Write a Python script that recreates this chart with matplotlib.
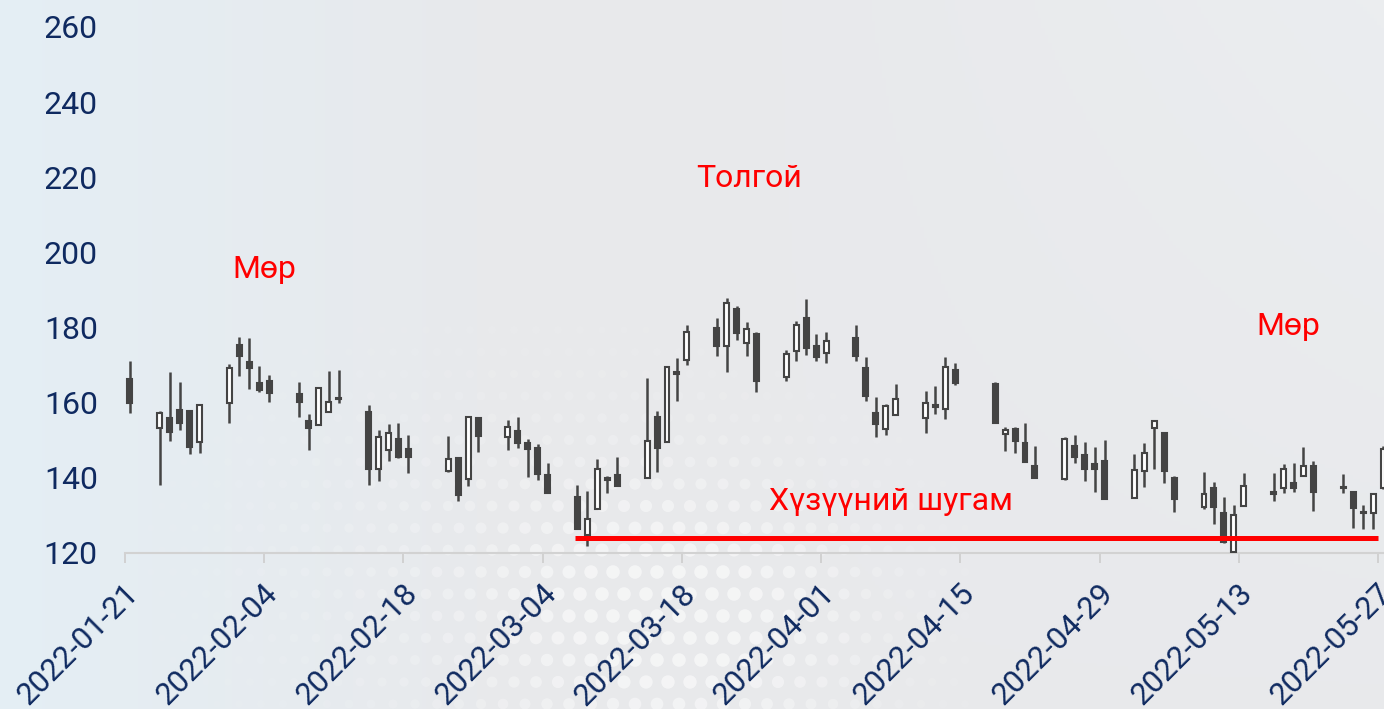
import numpy as np
import pandas as pd
import matplotlib
matplotlib.use("Agg")
import matplotlib.pyplot as plt
import matplotlib.dates as mdates
import matplotlib.transforms as mtransforms

plt.rcParams['font.family'] = ['Roboto', 'DejaVu Sans']

# ---------------- data ----------------
dates = ["2022-01-21", "2022-01-24", "2022-01-25", "2022-01-26", "2022-01-27", "2022-01-28",
         "2022-01-31", "2022-02-01", "2022-02-02", "2022-02-03", "2022-02-04",
         "2022-02-07", "2022-02-08", "2022-02-09", "2022-02-10", "2022-02-11",
         "2022-02-14", "2022-02-15", "2022-02-16", "2022-02-17", "2022-02-18",
         "2022-02-22", "2022-02-23", "2022-02-24", "2022-02-25",
         "2022-02-28", "2022-03-01", "2022-03-02", "2022-03-03", "2022-03-04",
         "2022-03-07", "2022-03-08", "2022-03-09", "2022-03-10", "2022-03-11",
         "2022-03-14", "2022-03-15", "2022-03-16", "2022-03-17", "2022-03-18",
         "2022-03-21", "2022-03-22", "2022-03-23", "2022-03-24", "2022-03-25",
         "2022-03-28", "2022-03-29", "2022-03-30", "2022-03-31", "2022-04-01",
         "2022-04-04", "2022-04-05", "2022-04-06", "2022-04-07", "2022-04-08",
         "2022-04-11", "2022-04-12", "2022-04-13", "2022-04-14",
         "2022-04-18", "2022-04-19", "2022-04-20", "2022-04-21", "2022-04-22",
         "2022-04-25", "2022-04-26", "2022-04-27", "2022-04-28", "2022-04-29",
         "2022-05-02", "2022-05-03", "2022-05-04", "2022-05-05", "2022-05-06",
         "2022-05-09", "2022-05-10", "2022-05-11", "2022-05-12", "2022-05-13",
         "2022-05-16", "2022-05-17", "2022-05-18", "2022-05-19", "2022-05-20",
         "2022-05-23", "2022-05-24", "2022-05-25", "2022-05-26", "2022-05-27"]

opens = [166.2, 153.2, 156.0, 158.1, 157.8, 149.6,
         160.0, 175.4, 170.8, 165.2, 165.8,
         162.2, 155.1, 154.1, 157.6, 161.2,
         157.4, 142.4, 147.4, 150.3, 147.6,
         141.9, 145.4, 139.6, 156.0,
         150.8, 152.5, 149.2, 148.0, 140.8,
         135.0, 124.8, 131.7, 139.9, 140.8,
         139.9, 156.3, 149.6, 168.3, 171.4,
         179.8, 175.2, 184.9, 175.8, 178.3,
         166.9, 173.8, 182.6, 175.2, 173.2,
         177.1, 169.3, 157.3, 153.0, 156.7,
         155.9, 159.4, 158.2, 168.7,
         165.0, 151.7, 152.9, 149.4, 143.2,
         139.7, 148.6, 146.1, 143.6, 144.5,
         134.7, 141.8, 153.4, 151.9, 139.9,
         132.3, 137.4, 130.7, 120.3, 132.5,
         136.3, 137.2, 138.6, 140.6, 143.2,
         137.5, 136.2, 131.0, 130.7, 137.2]

highs = [171.1, 157.8, 168.1, 165.6, 158.1, 159.4,
         170.2, 177.4, 177.1, 169.9, 167.4,
         165.4, 157.0, 164.0, 168.4, 168.7,
         159.4, 152.7, 154.3, 154.5, 151.3,
         151.1, 145.4, 156.3, 156.0,
         155.4, 156.3, 150.3, 149.0, 143.9,
         138.1, 136.6, 145.0, 140.5, 145.6,
         166.5, 157.8, 169.4, 171.8, 180.7,
         182.5, 187.8, 185.7, 181.6, 178.9,
         174.0, 181.8, 187.5, 178.2, 178.9,
         180.7, 172.1, 161.4, 159.7, 165.0,
         163.1, 164.5, 172.3, 170.5,
         165.6, 153.5, 153.5, 154.5, 148.6,
         151.0, 151.4, 149.6, 148.3, 150.1,
         146.3, 149.2, 155.1, 151.9, 140.5,
         141.6, 139.0, 134.8, 132.8, 141.4,
         141.4, 143.6, 144.0, 148.3, 144.6,
         141.0, 136.2, 132.8, 135.6, 148.5]

lows = [157.3, 138.1, 149.9, 152.7, 146.4, 146.7,
        154.5, 167.2, 163.6, 162.9, 160.1,
        156.1, 147.4, 154.1, 157.6, 160.0,
        138.1, 139.2, 144.5, 145.2, 141.2,
        141.6, 133.9, 137.9, 147.0,
        147.4, 147.9, 140.3, 139.4, 135.9,
        126.3, 121.9, 131.7, 135.9, 137.9,
        139.9, 141.6, 149.6, 160.5, 170.0,
        172.4, 168.3, 176.7, 172.4, 162.9,
        165.9, 171.1, 172.7, 171.1, 170.7,
        171.1, 160.5, 150.8, 151.4, 156.7,
        152.0, 156.9, 155.6, 164.7,
        154.5, 147.1, 146.5, 144.3, 140.0,
        139.4, 144.0, 139.2, 136.2, 134.3,
        134.7, 137.5, 142.3, 138.6, 131.0,
        131.7, 127.6, 122.7, 119.5, 132.5,
        133.8, 136.0, 136.3, 140.6, 131.3,
        136.1, 126.7, 126.3, 126.3, 137.0]

closes = [159.8, 157.3, 152.3, 154.7, 148.3, 159.4,
          169.3, 172.4, 169.3, 163.4, 162.7,
          160.1, 153.2, 164.0, 160.3, 160.9,
          142.4, 151.0, 151.9, 145.6, 145.5,
          145.0, 135.4, 156.3, 151.1,
          153.5, 149.2, 147.7, 141.0, 135.9,
          126.3, 129.0, 142.4, 139.4, 137.9,
          149.9, 147.9, 169.4, 167.7, 178.9,
          175.2, 186.6, 178.5, 179.6, 165.8,
          173.0, 180.7, 174.6, 172.1, 176.5,
          172.4, 161.8, 154.3, 159.1, 160.9,
          159.9, 158.9, 169.6, 165.2,
          154.5, 152.7, 149.8, 144.3, 140.0,
          150.4, 145.5, 142.3, 142.4, 134.3,
          142.1, 146.5, 155.1, 141.8, 134.3,
          135.6, 132.2, 123.0, 130.1, 137.8,
          135.8, 142.3, 137.4, 143.2, 136.2,
          137.2, 131.9, 130.6, 135.6, 147.6]

tick_labels = ["2022-01-21", "2022-02-04", "2022-02-18", "2022-03-04", "2022-03-18",
               "2022-04-01", "2022-04-15", "2022-04-29", "2022-05-13", "2022-05-27"]
y_ticks = [120, 140, 160, 180, 200, 220, 240, 260]

annotations = [("Мөр", "2022-02-04 00:00", 195.5),
               ("Толгой", "2022-03-24 18:00", 219.8),
               ("Мөр", "2022-05-18 00:00", 180.2),
               ("Хүзүүний шугам", "2022-04-08 00:00", 133.6)]
neckline_dates = ["2022-03-07 06:00", "2022-05-27 00:00"]
neckline_level = 124.0

# ---------------- figure ----------------
W, H = 1384, 709
fig = plt.figure(figsize=(W / 100, H / 100), dpi=100)
fig.patch.set_facecolor("#e8e9eb")

# background gradient + decorative halftone dots
bg = fig.add_axes([0, 0, 1, 1], zorder=-10)
bg.set_axis_off()
xs = np.linspace(0, 1, 400)
ys = np.linspace(0, 1, 200)
X, Y = np.meshgrid(xs, ys)
c_left = np.array([0.895, 0.935, 0.96])
c_mid = np.array([0.91, 0.915, 0.925])
t = np.clip(X / 0.35, 0, 1)[..., None]
img = c_left * (1 - t) + c_mid * t
t2 = np.clip((X - 0.55) / 0.45, 0, 1)[..., None] * np.clip(1 - Y, 0, 1)[..., None] * 0.6
img = img * (1 - t2) + np.array([0.93, 0.94, 0.95]) * t2
bg.imshow(img, extent=[0, W, H, 0], aspect="auto")
gx, gy = np.meshgrid(np.arange(140, 960, 22.0), np.arange(330, 720, 22.0))
gx = gx + (np.arange(gy.shape[0])[:, None] % 2) * 11
wgt = np.exp(-(((gx - 690) / 190) ** 2 + ((gy - 620) / 150) ** 2))
wgt2 = 0.35 * np.exp(-(((gx - 480) / 260) ** 2 + ((gy - 560) / 200) ** 2))
a = np.clip(wgt + wgt2, 0, 1)
cols = np.zeros((gx.size, 4)); cols[:, :3] = 1.0; cols[:, 3] = 0.55 * a.ravel()
bg.scatter(gx.ravel(), gy.ravel(), s=(25 + 70 * a.ravel()), c=cols, linewidths=0)
bg.set_xlim(0, W)
bg.set_ylim(H, 0)

ax = fig.add_axes([125 / W, 156 / H, (W - 125) / W, (553 - 27) / H])
ax.set_facecolor("none")

d = pd.to_datetime(dates) + pd.Timedelta(hours=12)
xnum = mdates.date2num(d)
o = np.array(opens); h = np.array(highs); l = np.array(lows); c = np.array(closes)
up = c >= o
dark = "#444444"

ax.vlines(xnum, l, h, color=dark, linewidth=1.8, zorder=2)
bottoms = np.minimum(o, c)
heights = np.maximum(np.abs(c - o), 0.15)
ax.bar(xnum[up], heights[up], bottom=bottoms[up], width=0.5,
       facecolor="white", edgecolor=dark, linewidth=1.5, zorder=3)
ax.bar(xnum[~up], heights[~up], bottom=bottoms[~up], width=0.5,
       facecolor=dark, edgecolor=dark, linewidth=1.5, zorder=3)

# neckline
nd = mdates.date2num(pd.to_datetime(neckline_dates))
ax.plot(nd, [neckline_level, neckline_level], color="#ff0000", linewidth=3.6,
        solid_capstyle="butt", zorder=4)

for txt, dt, yv in annotations:
    ax.text(mdates.date2num(pd.Timestamp(dt)), yv, txt, color="#ff0000",
            fontsize=23, ha="center", va="center", zorder=5)

x0 = mdates.date2num(pd.Timestamp("2022-01-21"))
ax.set_xlim(x0, x0 + 126.6)
ax.set_ylim(120, 260)

navy = "#0f2a60"
ax.set_yticks(y_ticks)
ax.set_yticklabels([str(v) for v in y_ticks])
ax.tick_params(axis="y", length=0, pad=19.5, labelsize=23, labelcolor=navy)

tick_pos = mdates.date2num(pd.to_datetime(tick_labels))
ax.set_xticks(tick_pos)
ax.set_xticklabels(tick_labels)
ax.tick_params(axis="x", length=7, width=1.3, color="#cfcfcf", pad=11.5,
               labelsize=22.5, labelcolor=navy)
offset = mtransforms.ScaledTranslation(-1 / 100, 0, fig.dpi_scale_trans)
for lab in ax.get_xticklabels():
    lab.set_rotation(45)
    lab.set_ha("right")
    lab.set_va("top")
    lab.set_rotation_mode("anchor")
    lab.set_transform(lab.get_transform() + offset)

for s in ["top", "right", "left"]:
    ax.spines[s].set_visible(False)
ax.spines["bottom"].set_color("#d2d2d2")
ax.spines["bottom"].set_linewidth(1.5)

fig.savefig("out.png", dpi=100, facecolor=fig.get_facecolor())
